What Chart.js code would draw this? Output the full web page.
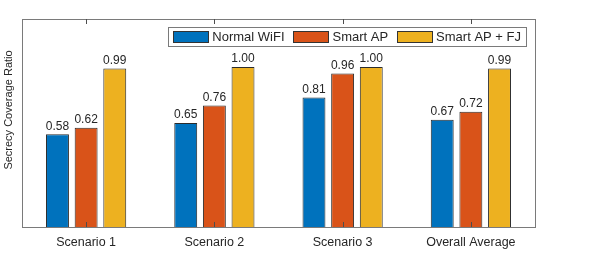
<!DOCTYPE html>
<html>
<head>
<meta charset="utf-8">
<script src="https://cdn.jsdelivr.net/npm/chart.js@4"></script>
<style>
  html, body { margin: 0; padding: 0; background: #fff; }
  #wrap { width: 598px; height: 256px; }
</style>
</head>
<body>
<div id="wrap"><canvas id="chart" width="598" height="256"></canvas></div>
<script>
/* ── data ── */
const categories  = ['Scenario 1', 'Scenario 2', 'Scenario 3', 'Overall Average'];
const normalWifi  = [0.58, 0.65, 0.81, 0.67];
const smartAP     = [0.62, 0.76, 0.96, 0.72];
const smartAPFJ   = [0.99, 1.00, 1.00, 0.99];
const seriesNames = ['Normal WiFI', 'Smart AP', 'Smart AP + FJ'];
const yMin = 0, yMax = 1.3;

/* ── style ── */
const FONT   = "Arial, 'Liberation Sans', Helvetica, sans-serif";
const INK    = '#262626';
const AXIS   = '#7a7a7a';
const colors = ['#0072BD', '#D95319', '#EDB120'];

/* ── box + inward ticks (MATLAB look) ── */
const boxPlugin = {
  id: 'box',
  afterDatasetsDraw(chart) {
    const { ctx, chartArea: a, scales: { x } } = chart;
    ctx.save();
    ctx.strokeStyle = AXIS;
    ctx.lineWidth = 1;
    ctx.strokeRect(Math.round(a.left) + 0.5, Math.round(a.top) + 0.5,
                   Math.round(a.right - a.left), Math.round(a.bottom - a.top));
    ctx.strokeStyle = '#4d4d4d';
    categories.forEach((c, i) => {
      const px = Math.round(x.getPixelForValue(i)) + 0.5;
      ctx.beginPath();
      ctx.moveTo(px, a.top); ctx.lineTo(px, a.top + 5);
      ctx.moveTo(px, a.bottom); ctx.lineTo(px, a.bottom - 5);
      ctx.stroke();
    });
    ctx.restore();
  }
};

/* ── value labels above bars ── */
const valuePlugin = {
  id: 'values',
  afterDatasetsDraw(chart) {
    const { ctx } = chart;
    ctx.save();
    ctx.font = `12px ${FONT}`;
    ctx.fillStyle = INK;
    ctx.textAlign = 'center';
    ctx.textBaseline = 'bottom';
    chart.data.datasets.forEach((ds, di) => {
      chart.getDatasetMeta(di).data.forEach((bar, i) => {
        ctx.fillText(ds.data[i].toFixed(2), bar.x, bar.y - 2);
      });
    });
    ctx.restore();
  }
};

/* ── legend box inside axes, top-right ── */
const legendPlugin = {
  id: 'boxLegend',
  afterDraw(chart) {
    const { ctx, chartArea: a } = chart;
    ctx.save();
    ctx.font = `13px ${FONT}`;
    const patchW = 35, patchH = 11, gapText = 4, gapItem = 9, padL = 5, padR = 5;
    const widths = chart.data.datasets.map(ds => ctx.measureText(ds.label).width);
    let total = padL + padR;
    widths.forEach((w, i) => { total += patchW + gapText + w + (i < widths.length - 1 ? gapItem : 0); });
    const right = a.right - 9, top = a.top + 8, h = 19;
    const left = right - total;
    ctx.fillStyle = '#fff';
    ctx.fillRect(left, top, total, h);
    ctx.strokeStyle = AXIS;
    ctx.lineWidth = 1;
    ctx.strokeRect(Math.round(left) + 0.5, top + 0.5, Math.round(total), h);
    let xx = left + padL;
    chart.data.datasets.forEach((ds, i) => {
      ctx.fillStyle = ds.backgroundColor;
      ctx.fillRect(xx, top + 4, patchW, patchH);
      ctx.strokeStyle = '#333';
      ctx.strokeRect(Math.round(xx) + 0.5, top + 4.5, patchW, patchH);
      xx += patchW + gapText;
      ctx.fillStyle = INK;
      ctx.textBaseline = 'middle';
      ctx.fillText(ds.label, xx, top + h / 2 + 1);
      xx += widths[i] + gapItem;
    });
    ctx.restore();
  }
};

/* ── y axis title (rotated) ── */
const yTitlePlugin = {
  id: 'yTitle',
  afterDraw(chart) {
    const { ctx } = chart;
    ctx.save();
    ctx.translate(9, 110);
    ctx.rotate(-Math.PI / 2);
    ctx.font = `11px ${FONT}`;
    ctx.fillStyle = INK;
    ctx.textAlign = 'center';
    ctx.textBaseline = 'middle';
    ctx.fillText('Secrecy Coverage Ratio', 0, 0);
    ctx.restore();
  }
};

const seriesData = [normalWifi, smartAP, smartAPFJ];

new Chart(document.getElementById('chart'), {
  type: 'bar',
  data: {
    labels: categories,
    datasets: seriesData.map((d, i) => ({
      label: seriesNames[i],
      data: d,
      backgroundColor: colors[i],
      borderColor: '#2b2b2b',
      borderWidth: 1,
      categoryPercentage: 0.67,
      barPercentage: 0.8,
    }))
  },
  options: {
    responsive: false,
    animation: false,
    devicePixelRatio: 1,
    layout: { padding: { left: 22, right: 63, top: 19, bottom: 0 } },
    plugins: { legend: { display: false }, tooltip: { enabled: false } },
    scales: {
      x: {
        grid: { display: false, drawTicks: false },
        border: { display: false },
        ticks: { color: INK, font: { family: FONT, size: 12.5 }, padding: 8, maxRotation: 0 },
        afterFit: s => { s.height = 29; }
      },
      y: { display: false, min: yMin, max: yMax }
    }
  },
  plugins: [boxPlugin, valuePlugin, legendPlugin, yTitlePlugin]
});
</script>
</body>
</html>
